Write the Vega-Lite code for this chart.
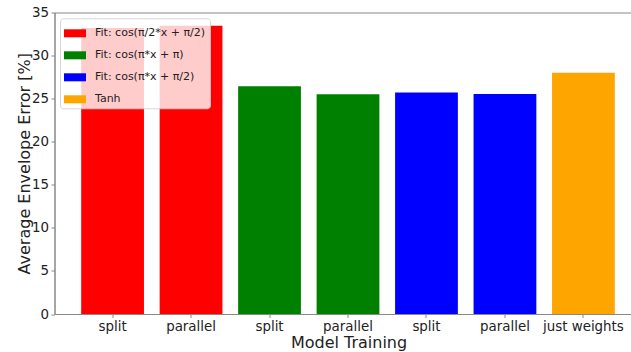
{
  "$schema": "https://vega.github.io/schema/vega-lite/v6.json",
  "autosize": {"type": "none"},
  "width": 577,
  "height": 301.5,
  "padding": {"left": 54.5, "top": 12.5, "right": 0, "bottom": 38},
  "background": "white",
  "config": {
    "view": {"stroke": "#888888", "strokeWidth": 1},
    "font": "DejaVu Sans",
    "axis": {
      "domainColor": "#888888",
      "tickColor": "#888888",
      "tickSize": 3.5,
      "labelFont": "DejaVu Sans",
      "labelFontSize": 13.4,
      "labelColor": "#222222",
      "titleFont": "DejaVu Sans",
      "titleFontSize": 16,
      "titleFontWeight": "normal",
      "titleColor": "#222222",
      "grid": false
    }
  },
  "data": {
    "values": [
      {"key": "0 split", "fit": "Fit: cos(π/2*x + π/2)", "error": 33.2},
      {"key": "1 parallel", "fit": "Fit: cos(π/2*x + π/2)", "error": 33.45},
      {"key": "2 split", "fit": "Fit: cos(π*x + π)", "error": 26.45},
      {"key": "3 parallel", "fit": "Fit: cos(π*x + π)", "error": 25.5},
      {"key": "4 split", "fit": "Fit: cos(π*x + π/2)", "error": 25.7},
      {"key": "5 parallel", "fit": "Fit: cos(π*x + π/2)", "error": 25.55},
      {"key": "6 just weights", "fit": "Tanh", "error": 28.0}
    ]
  },
  "mark": {"type": "bar"},
  "encoding": {
    "x": {
      "field": "key",
      "type": "nominal",
      "sort": null,
      "scale": {"paddingInner": 0.2, "paddingOuter": 0.34, "range": [0, 587]},
      "axis": {
        "labelAngle": 0,
        "labelExpr": "slice(datum.label, 2)",
        "labelPadding": 2,
        "labelBaseline": "top",
        "title": "Model Training",
        "titleX": 294,
        "titleY": 33.5,
        "titleAlign": "center",
        "titleBaseline": "alphabetic",
        "titleAnchor": null
      }
    },
    "y": {
      "field": "error",
      "type": "quantitative",
      "scale": {"domain": [0, 35], "nice": false},
      "axis": {
        "values": [0, 5, 10, 15, 20, 25, 30, 35],
        "labelPadding": 2.5,
        "title": "Average Envelope Error [%]",
        "titleX": -25.5,
        "titleY": 150.75,
        "titleAngle": -90,
        "titleAlign": "center",
        "titleBaseline": "alphabetic"
      }
    },
    "color": {
      "field": "fit",
      "type": "nominal",
      "scale": {
        "domain": ["Fit: cos(π/2*x + π/2)", "Fit: cos(π*x + π)", "Fit: cos(π*x + π/2)", "Tanh"],
        "range": ["#ff0000", "#008000", "#0000ff", "#ffa500"]
      },
      "legend": {
        "title": null,
        "orient": "none",
        "legendX": 5.5,
        "legendY": 5.8,
        "fillColor": "rgba(255,255,255,0.8)",
        "strokeColor": "rgba(204,204,204,0.8)",
        "cornerRadius": 3,
        "padding": 4,
        "symbolType": "M-1,-0.364H1V0.364H-1Z",
        "symbolSize": 484,
        "symbolStrokeWidth": 0,
        "symbolOpacity": 1,
        "labelFont": "DejaVu Sans",
        "labelFontSize": 11,
        "labelColor": "#222222",
        "labelOffset": 9,
        "rowPadding": 6
      }
    }
  }
}
